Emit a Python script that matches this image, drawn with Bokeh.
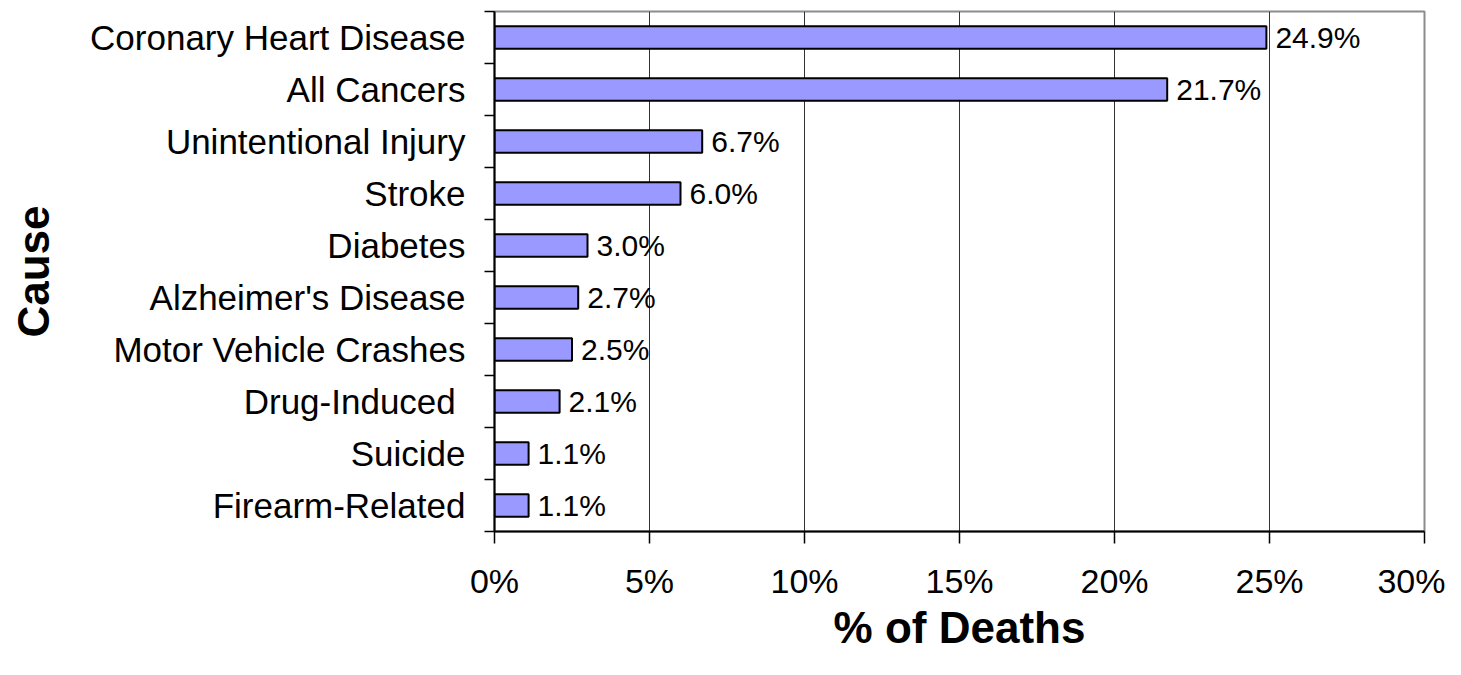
from bokeh.plotting import figure
from bokeh.models import Range1d, FixedTicker, ColumnDataSource
from bokeh.core.properties import value
from bokeh.embed import file_html
from bokeh.resources import INLINE

# ---- data ----
causes = ["Coronary Heart Disease", "All Cancers", "Unintentional Injury", "Stroke",
          "Diabetes", "Alzheimer's Disease", "Motor Vehicle Crashes", "Drug-Induced ",
          "Suicide", "Firearm-Related"]
percent = [24.9, 21.7, 6.7, 6.0, 3.0, 2.7, 2.5, 2.1, 1.1, 1.1]
x_ticks = [0, 5, 10, 15, 20, 25, 30]
x_tick_labels = ["0%", "5%", "10%", "15%", "20%", "25%", "30%"]

n = len(causes)
ypos = [n - i - 0.5 for i in range(n)]
labels = [f"{v:.1f}%" for v in percent]
src = ColumnDataSource(dict(y=ypos, v=percent, lab=labels))

FONT = "Liberation Sans"

p = figure(width=1445, height=659, x_range=Range1d(0, 30), y_range=Range1d(0, n),
           output_backend="svg", toolbar_location=None,
           min_border_left=494, min_border_right=21, min_border_top=11, min_border_bottom=128)
p.background_fill_color = "white"
p.border_fill_color = "white"
p.outline_line_color = "#8c8c8c"
p.outline_line_width = 2

p.hbar(y="y", right="v", left=0, height=0.43, source=src,
       fill_color="#9999FF", line_color="black", line_width=2)
p.text(x="v", y="y", text="lab", source=src, x_offset=9,
       text_baseline="middle", text_align="left",
       text_font=value(FONT), text_font_size=value("30px"), text_color="black")

# grid
p.ygrid.grid_line_color = None
p.xgrid.ticker = FixedTicker(ticks=x_ticks)
p.xgrid.grid_line_color = "#333333"
p.xgrid.grid_line_width = 1

# x axis
xa = p.xaxis[0]
xa.ticker = FixedTicker(ticks=x_ticks)
xa.major_label_overrides = {t: l for t, l in zip(x_ticks, x_tick_labels)}
xa.axis_line_color = "black"
xa.axis_line_width = 2
xa.major_tick_in = 0
xa.major_tick_out = 12
xa.major_tick_line_color = "black"
xa.major_tick_line_width = 1.5
xa.minor_tick_line_color = None
xa.major_label_standoff = 18
xa.major_label_text_font = FONT
xa.major_label_text_font_size = "34px"
xa.major_label_text_color = "black"
xa.axis_label = "% of Deaths"
xa.axis_label_text_font = FONT
xa.axis_label_text_font_size = "44px"
xa.axis_label_text_font_style = "bold"
xa.axis_label_text_color = "black"
xa.axis_label_standoff = 0

# y axis
ya = p.yaxis[0]
ya.ticker = FixedTicker(ticks=ypos, minor_ticks=list(range(0, n + 1)))
ya.major_label_overrides = {y: c for y, c in zip(ypos, causes)}
ya.axis_line_color = "black"
ya.axis_line_width = 2
ya.major_tick_in = 0
ya.major_tick_out = 0
ya.minor_tick_in = 0
ya.minor_tick_out = 10
ya.minor_tick_line_color = "black"
ya.minor_tick_line_width = 1.5
ya.major_label_standoff = 19
ya.major_label_text_font = FONT
ya.major_label_text_font_size = "35px"
ya.major_label_text_color = "black"
ya.axis_label = "Cause"
ya.axis_label_text_font = FONT
ya.axis_label_text_font_size = "44px"
ya.axis_label_text_font_style = "bold"
ya.axis_label_text_color = "black"
ya.axis_label_standoff = 29

open("out.html", "w").write(file_html(p, INLINE))
